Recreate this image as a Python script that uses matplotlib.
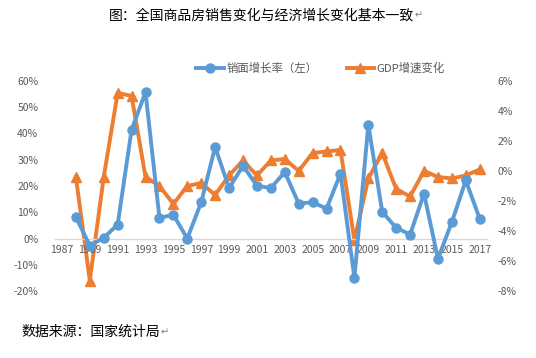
import matplotlib.pyplot as plt
import numpy as np

plt.rcParams['font.family'] = ['Noto Sans CJK SC', 'DejaVu Sans']

BLUE = '#5B9BD5'
ORANGE = '#ED7D31'
GRAY = '#595959'

years = list(range(1987, 2018))
# 销面增长率（左轴, %）; 1987 无数据
sales_growth = [np.nan, 8.2, -2.7, 0.3, 5.3, 41.4, 55.7, 7.9, 9.0, 0.0,
                13.8, 34.8, 19.2, 27.7, 20.1, 19.2, 25.3, 13.3, 13.8, 11.4,
                24.7, -14.9, 43.3, 10.1, 4.1, 1.5, 17.1, -7.7, 6.3, 22.1, 7.5]
# GDP增速变化（右轴, %）
gdp_change = [np.nan, -0.4, -7.3, -0.4, 5.2, 5.0, -0.4, -1.0, -2.2, -1.0,
              -0.8, -1.6, -0.3, 0.7, -0.3, 0.7, 0.8, 0.0, 1.2, 1.3,
              1.4, -4.6, -0.5, 1.2, -1.2, -1.7, 0.0, -0.4, -0.5, -0.3, 0.1]
left_ticks = [-20, -10, 0, 10, 20, 30, 40, 50, 60]
right_ticks = [-8, -6, -4, -2, 0, 2, 4, 6]

fig = plt.figure(figsize=(5.36, 3.58), dpi=100)
ax = fig.add_axes([0.1026, 0.187, 0.8054, 0.587])
ax2 = ax.twinx()

x = np.arange(len(years))
l1, = ax.plot(x, sales_growth, color=BLUE, lw=2.8, marker='o', markersize=6.5,
              label='销面增长率（左）', zorder=3)
l2, = ax2.plot(x, gdp_change, color=ORANGE, lw=2.8, marker='^', markersize=6.5,
               label='GDP增速变化', zorder=3)

ax.set_xlim(-0.5, len(years) - 0.5)
ax.set_ylim(-20, 60)
ax2.set_ylim(-8, 6)
ax.set_yticks(left_ticks)
ax.set_yticklabels([f'{v}%' for v in left_ticks])
ax2.set_yticks(right_ticks)
ax2.set_yticklabels([f'{v}%' for v in right_ticks])
ax.set_xticks(x[::2])
ax.set_xticklabels([str(y) for y in years[::2]])

for a in (ax, ax2):
    for s in ('top', 'left', 'right', 'bottom'):
        a.spines[s].set_visible(False)
ax.spines['bottom'].set_visible(True)
ax.spines['bottom'].set_position(('data', 0))
ax.spines['bottom'].set_color('#D9D9D9')
ax.spines['bottom'].set_linewidth(1)

ax.tick_params(axis='x', length=0, pad=5, labelsize=7.5, colors=GRAY)
ax.tick_params(axis='y', length=0, pad=12, labelsize=7.5, colors=GRAY)
ax2.tick_params(axis='y', length=0, pad=8, labelsize=7.5, colors=GRAY)
ax.set_zorder(ax2.get_zorder() + 1)
ax.patch.set_visible(False)

fig.legend(handles=[l1, l2], loc='center', bbox_to_anchor=(0.598, 0.81),
           ncol=2, frameon=False, fontsize=8.2, labelcolor=GRAY,
           handlelength=2.4, columnspacing=2.6, handletextpad=0.2)

title = fig.text(0.488, 0.958, '图：全国商品房销售变化与经济增长变化基本一致',
                 ha='center', va='center', fontsize=10, color='black')
ax.annotate('↵', xy=(1, 0.45), xycoords=title, ha='left', va='center',
            fontsize=7, color='#808080', annotation_clip=False)
source = fig.text(0.04, 0.073, '数据来源：国家统计局', ha='left', va='center',
                  fontsize=10, color='black')
ax.annotate('↵', xy=(1, 0.45), xycoords=source, ha='left', va='center',
            fontsize=7, color='#808080', annotation_clip=False)

fig.savefig('out.png', dpi=100, facecolor='white')
